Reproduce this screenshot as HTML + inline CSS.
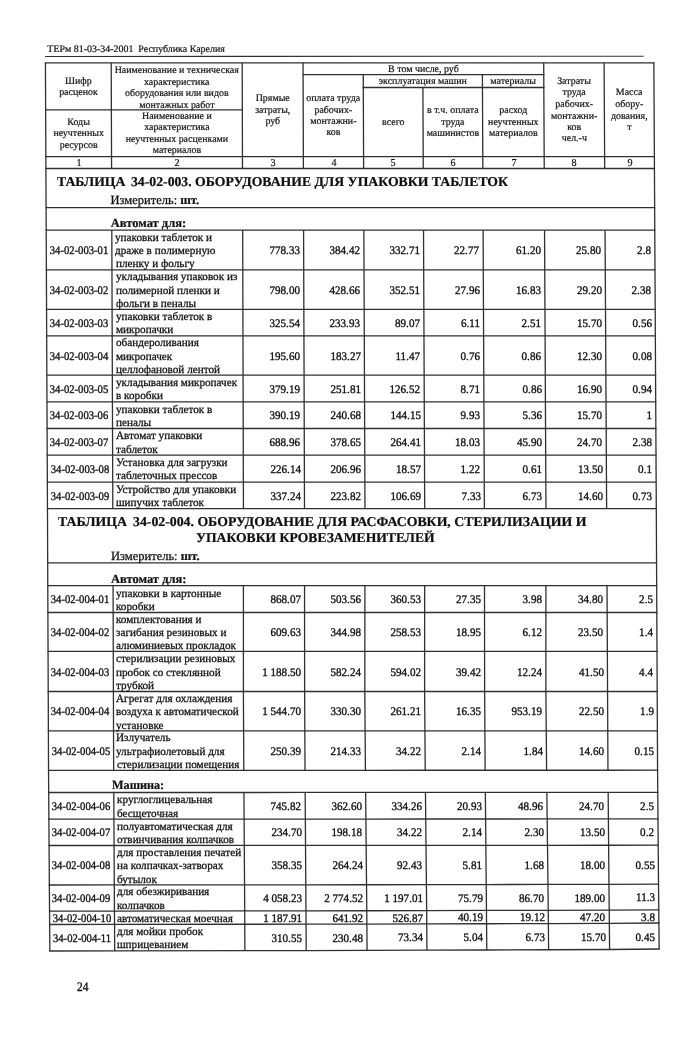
<!DOCTYPE html>
<html lang="ru"><head><meta charset="utf-8"><title>ТЕРм 81-03-34-2001 Республика Карелия</title>
<style>
html,body{margin:0;padding:0;background:#fff}
#page{position:relative;width:700px;height:1049px;overflow:hidden;background:#fff;font-family:"Liberation Serif","Times New Roman",serif;color:#101010;text-rendering:geometricPrecision}
#sheet{position:absolute;left:0;top:0;width:700px;height:1049px;will-change:transform;filter:blur(0.28px)}
#rules{position:absolute;left:0;top:0}
.t{position:absolute;display:block;white-space:pre;line-height:14.0px;-webkit-text-stroke:0.34px #101010}
.h{-webkit-text-stroke-width:0.2px}
.d{-webkit-text-stroke-width:0.26px}
.b,.t b{font-weight:bold;-webkit-text-stroke:0.22px #101010}
</style></head><body>
<div id="page"><div id="sheet">
<svg id="rules" width="700" height="1049" viewBox="0 0 700 1049" fill="none" stroke="#303030" stroke-linecap="butt" stroke-linejoin="round">
<path stroke-width="1.1" d="M45.10 56.43L643.60 56.25"/>
<path stroke-width="1.3" d="M45.43 62.86L45.91 168.50M111.20 62.86L111.58 168.50M242.20 62.86L242.49 168.50M303.05 62.86L303.39 168.50M543.70 62.86L544.23 168.50M604.10 62.86L604.70 168.50M653.86 62.86L654.44 168.50M363.25 74.70L363.62 168.50M482.40 74.70L482.83 168.50M422.91 87.50L423.25 168.50M45.91 168.50L46.09 207.70M654.44 168.50L654.65 207.70"/>
<path stroke-width="1.3" d="M46.09 207.70L46.19 230.10M654.65 207.70L654.77 230.10M46.19 230.10L46.38 269.80M111.80 230.10L111.95 269.80M242.67 230.10L242.78 269.80M303.59 230.10L303.72 269.80M363.86 230.10L364.02 269.80M423.52 230.10L423.69 269.80M483.11 230.10L483.29 269.80M544.55 230.10L544.75 269.80M605.05 230.10L605.28 269.80M654.77 230.10L654.99 269.80"/>
<path stroke-width="1.3" d="M46.38 269.80L46.56 309.40M111.95 269.80L112.09 309.40M242.78 269.80L242.89 309.40M303.72 269.80L303.85 309.40M364.02 269.80L364.18 309.40M423.69 269.80L423.86 309.40M483.29 269.80L483.47 309.40M544.75 269.80L544.95 309.40M605.28 269.80L605.50 309.40M654.99 269.80L655.20 309.40M46.56 309.40L46.68 335.90M112.09 309.40L112.19 335.90"/>
<path stroke-width="1.3" d="M242.89 309.40L242.96 335.90M303.85 309.40L303.94 335.90M364.18 309.40L364.29 335.90M423.86 309.40L423.97 335.90M483.47 309.40L483.60 335.90M544.95 309.40L545.08 335.90M605.50 309.40L605.65 335.90M655.20 309.40L655.35 335.90M46.68 335.90L46.86 375.20M112.19 335.90L112.33 375.20M242.96 335.90L243.07 375.20M303.94 335.90L304.07 375.20"/>
<path stroke-width="1.3" d="M364.29 335.90L364.44 375.20M423.97 335.90L424.14 375.20M483.60 335.90L483.78 375.20M545.08 335.90L545.28 375.20M605.65 335.90L605.87 375.20M655.35 335.90L655.56 375.20M46.86 375.20L46.98 401.80M112.33 375.20L112.42 401.80M243.07 375.20L243.14 401.80M304.07 375.20L304.15 401.80M364.44 375.20L364.55 401.80M424.14 375.20L424.25 401.80"/>
<path stroke-width="1.3" d="M483.78 375.20L483.90 401.80M545.28 375.20L545.41 401.80M605.87 375.20L606.02 401.80M655.56 375.20L655.71 401.80M46.98 401.80L47.10 428.50M112.42 401.80L112.52 428.50M243.14 401.80L243.22 428.50M304.15 401.80L304.24 428.50M364.55 401.80L364.65 428.50M424.25 401.80L424.37 428.50M483.90 401.80L484.02 428.50M545.41 401.80L545.55 428.50"/>
<path stroke-width="1.3" d="M606.02 401.80L606.18 428.50M655.71 401.80L655.85 428.50M47.10 428.50L47.22 455.20M112.52 428.50L112.62 455.20M243.22 428.50L243.29 455.20M304.24 428.50L304.33 455.20M364.65 428.50L364.76 455.20M424.37 428.50L424.48 455.20M484.02 428.50L484.14 455.20M545.55 428.50L545.68 455.20M606.18 428.50L606.33 455.20M655.85 428.50L656.00 455.20"/>
<path stroke-width="1.3" d="M47.22 455.20L47.35 482.20M112.62 455.20L112.72 482.20M243.29 455.20L243.37 482.20M304.33 455.20L304.41 482.20M364.76 455.20L364.87 482.20M424.48 455.20L424.60 482.20M484.14 455.20L484.26 482.20M545.68 455.20L545.82 482.20M606.33 455.20L606.48 482.20M656.00 455.20L656.15 482.20M47.35 482.20L47.47 508.70M112.72 482.20L112.81 508.70"/>
<path stroke-width="1.3" d="M243.37 482.20L243.44 508.70M304.41 482.20L304.50 508.70M364.87 482.20L364.97 508.70M424.60 482.20L424.71 508.70M484.26 482.20L484.38 508.70M545.82 482.20L545.96 508.70M606.48 482.20L606.63 508.70M656.15 482.20L656.29 508.70M47.47 508.70L47.69 562.90M656.29 508.70L656.56 562.90M47.69 562.90L47.78 585.70M656.56 562.90L656.67 585.70"/>
<path stroke-width="1.3" d="M47.78 585.70L47.89 612.50M113.06 585.70L113.15 612.50M243.42 585.70L243.42 612.50M304.56 585.70L304.57 612.50M364.91 585.70L364.88 612.50M424.67 585.70L424.65 612.50M484.49 585.70L484.52 612.50M545.92 585.70L545.91 612.50M607.02 585.70L607.16 612.50M656.67 585.70L656.80 612.50M47.89 612.50L48.05 651.30M113.15 612.50L113.27 651.30"/>
<path stroke-width="1.3" d="M243.42 612.50L243.41 651.30M304.57 612.50L304.60 651.30M364.88 612.50L364.85 651.30M424.65 612.50L424.63 651.30M484.52 612.50L484.58 651.30M545.91 612.50L545.89 651.30M607.16 612.50L607.36 651.30M656.80 612.50L656.99 651.30M48.05 651.30L48.22 691.50M113.27 651.30L113.40 691.50M243.41 651.30L243.40 691.50M304.60 651.30L304.64 691.50"/>
<path stroke-width="1.3" d="M364.85 651.30L364.83 691.50M424.63 651.30L424.62 691.50M484.58 651.30L484.64 691.50M545.89 651.30L545.89 691.50M607.36 651.30L607.56 691.50M656.99 651.30L657.18 691.50M48.22 691.50L48.38 730.90M113.40 691.50L113.53 730.90M243.40 691.50L243.60 730.90M304.64 691.50L304.83 730.90M364.83 691.50L365.12 730.90M424.62 691.50L424.92 730.90"/>
<path stroke-width="1.3" d="M484.64 691.50L484.89 730.90M545.89 691.50L546.24 730.90M607.56 691.50L607.76 730.90M657.18 691.50L657.38 730.90M48.38 730.90L48.54 770.30M113.53 730.90L113.66 770.30M243.60 730.90L243.79 770.29M304.83 730.90L305.02 770.28M365.12 730.90L365.41 770.28M424.92 730.90L425.22 770.27M484.89 730.90L485.15 770.26M546.24 730.90L546.59 770.25"/>
<path stroke-width="1.3" d="M607.76 730.90L607.96 770.24M657.38 730.90L657.57 770.21M48.54 770.30L48.70 792.50M657.57 770.21L657.75 792.35M48.70 792.50L48.88 819.10M113.78 792.49L113.93 819.09M243.94 792.48L244.11 819.06M305.17 792.47L305.35 819.05M365.63 792.46L365.89 819.04M425.45 792.44L425.73 819.01M485.35 792.42L485.60 818.99M546.85 792.41L547.17 818.96"/>
<path stroke-width="1.3" d="M608.16 792.39L608.39 818.93M657.75 792.35L657.97 818.87M48.88 819.10L49.07 845.50M113.93 819.09L114.07 845.48M244.11 819.06L244.29 845.45M305.35 819.05L305.53 845.43M365.89 819.04L366.15 845.42M425.73 819.01L426.00 845.38M485.60 818.99L485.85 845.35M547.17 818.96L547.49 845.31M608.39 818.93L608.61 845.27M657.97 818.87L658.19 845.19"/>
<path stroke-width="1.3" d="M49.07 845.50L49.34 885.00M114.07 845.48L114.29 884.95M244.29 845.45L244.55 884.85M305.53 845.43L305.80 884.81M366.15 845.42L366.54 884.75M426.00 845.38L426.41 884.65M485.85 845.35L486.22 884.55M547.49 845.31L547.96 884.45M608.61 845.27L608.96 884.33M658.19 845.19L658.52 884.10M49.34 885.00L49.55 911.10M114.29 884.95L114.45 911.03"/>
<path stroke-width="1.3" d="M244.55 884.85L244.71 910.89M305.80 884.81L305.98 910.82M366.54 884.75L366.78 910.74M426.41 884.65L426.66 910.60M486.22 884.55L486.46 910.45M547.96 884.45L548.25 910.30M608.96 884.33L609.21 910.13M658.52 884.10L658.77 909.80M49.55 911.10L49.65 924.50M114.45 911.03L114.54 924.42M244.71 910.89L244.77 924.26M305.98 910.82L306.05 924.18"/>
<path stroke-width="1.3" d="M366.78 910.74L366.87 924.08M426.66 910.60L426.75 923.91M486.46 910.45L486.56 923.75M548.25 910.30L548.37 923.57M609.21 910.13L609.34 923.37M658.77 909.80L658.89 922.99M49.65 924.50L49.86 951.00M114.54 924.42L114.70 950.89M244.77 924.26L244.90 950.68M306.05 924.18L306.20 950.58M366.87 924.08L367.05 950.45M426.75 923.91L426.95 950.22"/>
<path stroke-width="1.3" d="M486.56 923.75L486.77 950.00M548.37 923.57L548.60 949.77M609.34 923.37L609.60 949.51M658.89 922.99L659.14 949.00M44.78 62.86L654.51 62.86M302.44 74.70L544.41 74.70M362.65 87.50L544.47 87.50M44.99 109.80L242.98 109.80M45.21 156.65L655.02 156.65M45.26 168.50L655.09 168.50M45.44 207.70L655.30 207.70M45.54 230.10L655.42 230.10"/>
<path stroke-width="1.3" d="M45.73 269.80L655.64 269.80M45.91 309.40L655.85 309.40M46.03 335.90L656.00 335.90M46.21 375.20L656.21 375.20M46.33 401.80L656.36 401.80M46.45 428.50L656.50 428.50M46.57 455.20L656.65 455.20M46.70 482.20L656.80 482.20M46.82 508.70L656.94 508.70M47.04 562.90L657.21 562.90M47.13 585.70L657.32 585.70M47.24 612.50L657.45 612.50"/>
<path stroke-width="1.3" d="M47.40 651.30L657.64 651.30M47.57 691.50L657.83 691.50M47.73 730.90L658.03 730.90M47.89 770.30L113.66 770.30L243.79 770.29L305.02 770.28L365.41 770.28L425.22 770.27L485.15 770.26L546.59 770.25L607.96 770.24L658.22 770.21M48.05 792.50L113.78 792.49L243.94 792.48L305.17 792.47L365.63 792.46L425.45 792.44L485.35 792.42L546.85 792.41L608.16 792.39L658.40 792.35M48.23 819.10L113.93 819.09L244.11 819.06L305.35 819.05L365.89 819.04L425.73 819.01L485.60 818.99L547.17 818.96L608.39 818.93L658.62 818.87M48.42 845.50L114.07 845.48L244.29 845.45L305.53 845.43L366.15 845.42L426.00 845.38L485.85 845.35L547.49 845.31L608.61 845.27L658.84 845.19M48.69 885.00L114.29 884.95L244.55 884.85L305.80 884.81L366.54 884.75L426.41 884.65L486.22 884.55L547.96 884.45L608.96 884.33L659.17 884.10M48.90 911.10L114.45 911.03L244.71 910.89L305.98 910.82L366.78 910.74L426.66 910.60L486.46 910.45L548.25 910.30L609.21 910.13L659.42 909.80M49.00 924.50L114.54 924.42L244.77 924.26L306.05 924.18L366.87 924.08L426.75 923.91L486.56 923.75L548.37 923.57L609.34 923.37L659.54 922.99M49.21 951.00L114.70 950.89L244.90 950.68L306.20 950.58L367.05 950.45L426.95 950.22L486.77 950.00L548.60 949.77L609.60 949.51L659.79 949.00"/>
</svg>
<span class="t h" style="top:43px;font-size:9.95px;left:47.35px;">ТЕРм 81-03-34-2001  Республика Карелия</span>
<span class="t h" style="top:75px;font-size:9.95px;left:-71.60px;width:300px;text-align:center;">Шифр</span>
<span class="t h" style="top:86px;font-size:9.95px;left:-71.55px;width:300px;text-align:center;">расценок</span>
<span class="t h" style="top:116px;font-size:9.95px;left:-71.43px;width:300px;text-align:center;">Коды</span>
<span class="t h" style="top:127px;font-size:9.95px;left:-71.39px;width:300px;text-align:center;">неучтенных</span>
<span class="t h" style="top:139px;font-size:9.95px;left:-71.34px;width:300px;text-align:center;">ресурсов</span>
<span class="t h" style="top:64px;font-size:9.95px;left:26.73px;width:300px;text-align:center;">Наименование и техническая</span>
<span class="t h" style="top:76px;font-size:9.95px;left:26.77px;width:300px;text-align:center;">характеристика</span>
<span class="t h" style="top:87px;font-size:9.95px;left:26.81px;width:300px;text-align:center;">оборудования или видов</span>
<span class="t h" style="top:99px;font-size:9.95px;left:26.84px;width:300px;text-align:center;">монтажных работ</span>
<span class="t h" style="top:110px;font-size:9.95px;left:26.88px;width:300px;text-align:center;">Наименование и</span>
<span class="t h" style="top:121px;font-size:9.95px;left:26.91px;width:300px;text-align:center;">характеристика</span>
<span class="t h" style="top:133px;font-size:9.95px;left:26.95px;width:300px;text-align:center;">неучтенных расценками</span>
<span class="t h" style="top:144px;font-size:9.95px;left:26.99px;width:300px;text-align:center;">материалов</span>
<span class="t h" style="top:92px;font-size:9.95px;left:122.74px;width:300px;text-align:center;">Прямые</span>
<span class="t h" style="top:104px;font-size:9.95px;left:122.78px;width:300px;text-align:center;">затраты,</span>
<span class="t h" style="top:115px;font-size:9.95px;left:122.81px;width:300px;text-align:center;">руб</span>
<span class="t h" style="top:92px;font-size:9.95px;left:183.26px;width:300px;text-align:center;">оплата труда</span>
<span class="t h" style="top:104px;font-size:9.95px;left:183.31px;width:300px;text-align:center;">рабочих-</span>
<span class="t h" style="top:115px;font-size:9.95px;left:183.35px;width:300px;text-align:center;">монтажни-</span>
<span class="t h" style="top:126px;font-size:9.95px;left:183.39px;width:300px;text-align:center;">ков</span>
<span class="t h" style="top:63px;font-size:9.95px;left:273.42px;width:300px;text-align:center;">В том числе, руб</span>
<span class="t h" style="top:75px;font-size:9.95px;left:272.87px;width:300px;text-align:center;">эксплуатация машин</span>
<span class="t h" style="top:75px;font-size:9.95px;left:363.13px;width:300px;text-align:center;">материалы</span>
<span class="t h" style="top:116px;font-size:9.95px;left:243.26px;width:300px;text-align:center;">всего</span>
<span class="t h" style="top:104px;font-size:9.95px;left:302.80px;width:300px;text-align:center;">в т.ч. оплата</span>
<span class="t h" style="top:116px;font-size:9.95px;left:302.85px;width:300px;text-align:center;">труда</span>
<span class="t h" style="top:127px;font-size:9.95px;left:302.90px;width:300px;text-align:center;">машинистов</span>
<span class="t h" style="top:104px;font-size:9.95px;left:363.27px;width:300px;text-align:center;">расход</span>
<span class="t h" style="top:116px;font-size:9.95px;left:363.32px;width:300px;text-align:center;">неучтенных</span>
<span class="t h" style="top:127px;font-size:9.95px;left:363.38px;width:300px;text-align:center;">материалов</span>
<span class="t h" style="top:75px;font-size:9.95px;left:424.01px;width:300px;text-align:center;">Затраты</span>
<span class="t h" style="top:86px;font-size:9.95px;left:424.08px;width:300px;text-align:center;">труда</span>
<span class="t h" style="top:98px;font-size:9.95px;left:424.14px;width:300px;text-align:center;">рабочих-</span>
<span class="t h" style="top:110px;font-size:9.95px;left:424.20px;width:300px;text-align:center;">монтажни-</span>
<span class="t h" style="top:121px;font-size:9.95px;left:424.26px;width:300px;text-align:center;">ков</span>
<span class="t h" style="top:132px;font-size:9.95px;left:424.32px;width:300px;text-align:center;">чел.-ч</span>
<span class="t h" style="top:86px;font-size:9.95px;left:479.16px;width:300px;text-align:center;">Масса</span>
<span class="t h" style="top:98px;font-size:9.95px;left:479.23px;width:300px;text-align:center;">обору-</span>
<span class="t h" style="top:110px;font-size:9.95px;left:479.29px;width:300px;text-align:center;">дования,</span>
<span class="t h" style="top:121px;font-size:9.95px;left:479.35px;width:300px;text-align:center;">т</span>
<span class="t h" style="top:157px;font-size:10.55px;transform:scaleX(0.96);transform-origin:50% 0;left:-71.26px;width:300px;text-align:center;">1</span>
<span class="t h" style="top:157px;font-size:10.55px;transform:scaleX(0.96);transform-origin:50% 0;left:27.03px;width:300px;text-align:center;">2</span>
<span class="t h" style="top:157px;font-size:10.55px;transform:scaleX(0.96);transform-origin:50% 0;left:122.94px;width:300px;text-align:center;">3</span>
<span class="t h" style="top:157px;font-size:10.55px;transform:scaleX(0.96);transform-origin:50% 0;left:183.50px;width:300px;text-align:center;">4</span>
<span class="t h" style="top:157px;font-size:10.55px;transform:scaleX(0.96);transform-origin:50% 0;left:243.43px;width:300px;text-align:center;">5</span>
<span class="t h" style="top:157px;font-size:10.55px;transform:scaleX(0.96);transform-origin:50% 0;left:303.03px;width:300px;text-align:center;">6</span>
<span class="t h" style="top:157px;font-size:10.55px;transform:scaleX(0.96);transform-origin:50% 0;left:363.52px;width:300px;text-align:center;">7</span>
<span class="t h" style="top:157px;font-size:10.55px;transform:scaleX(0.96);transform-origin:50% 0;left:424.45px;width:300px;text-align:center;">8</span>
<span class="t h" style="top:157px;font-size:10.55px;transform:scaleX(0.96);transform-origin:50% 0;left:479.55px;width:300px;text-align:center;">9</span>
<span class="t b" style="top:175px;font-size:13.5px;transform:scaleX(1.0133);transform-origin:0 0;left:56.55px;">ТАБЛИЦА</span>
<span class="t b" style="top:175px;font-size:13.5px;transform:scaleX(1.0177);transform-origin:0 0;left:131.23px;">34-02-003. ОБОРУДОВАНИЕ ДЛЯ УПАКОВКИ ТАБЛЕТОК</span>
<span class="t d" style="top:193px;font-size:12.5px;left:110.51px;">Измеритель: <b>шт.</b></span>
<span class="t b" style="top:216px;font-size:12.5px;left:110.80px;">Автомат для:</span>
<span class="t" style="top:244px;font-size:11.6px;transform:scaleX(0.9172);transform-origin:50% 0;left:-71.40px;width:300px;text-align:center;">34-02-003-01</span>
<span class="t d" style="top:231px;font-size:11.3px;transform:scaleX(0.9912);transform-origin:0 0;left:115.41px;">упаковки таблеток и</span>
<span class="t d" style="top:244px;font-size:11.3px;transform:scaleX(0.9912);transform-origin:0 0;left:115.46px;">драже в полимерную</span>
<span class="t d" style="top:257px;font-size:11.3px;transform:scaleX(0.9912);transform-origin:0 0;left:115.51px;">пленку и фольгу</span>
<span class="t" style="top:244px;font-size:11.6px;transform:scaleX(0.9569);transform-origin:100% 0;left:-0.13px;width:300px;text-align:right;">778.33</span>
<span class="t" style="top:244px;font-size:11.6px;transform:scaleX(0.9569);transform-origin:100% 0;left:60.15px;width:300px;text-align:right;">384.42</span>
<span class="t" style="top:244px;font-size:11.6px;transform:scaleX(0.9569);transform-origin:100% 0;left:119.82px;width:300px;text-align:right;">332.71</span>
<span class="t" style="top:244px;font-size:11.6px;transform:scaleX(0.9569);transform-origin:100% 0;left:179.42px;width:300px;text-align:right;">22.77</span>
<span class="t" style="top:244px;font-size:11.6px;transform:scaleX(0.9569);transform-origin:100% 0;left:240.86px;width:300px;text-align:right;">61.20</span>
<span class="t" style="top:244px;font-size:11.6px;transform:scaleX(0.9569);transform-origin:100% 0;left:301.38px;width:300px;text-align:right;">25.80</span>
<span class="t" style="top:244px;font-size:11.6px;transform:scaleX(0.9569);transform-origin:100% 0;left:351.11px;width:300px;text-align:right;">2.8</span>
<span class="t" style="top:284px;font-size:11.6px;transform:scaleX(0.9172);transform-origin:50% 0;left:-71.24px;width:300px;text-align:center;">34-02-003-02</span>
<span class="t d" style="top:270px;font-size:11.3px;transform:scaleX(0.9912);transform-origin:0 0;left:115.50px;">укладывания упаковок из</span>
<span class="t d" style="top:284px;font-size:11.3px;transform:scaleX(0.9912);transform-origin:0 0;left:115.55px;">полимерной пленки и</span>
<span class="t d" style="top:297px;font-size:11.3px;transform:scaleX(0.9912);transform-origin:0 0;left:115.59px;">фольги в пеналы</span>
<span class="t" style="top:284px;font-size:11.6px;transform:scaleX(0.9569);transform-origin:100% 0;left:-0.01px;width:300px;text-align:right;">798.00</span>
<span class="t" style="top:284px;font-size:11.6px;transform:scaleX(0.9569);transform-origin:100% 0;left:60.31px;width:300px;text-align:right;">428.66</span>
<span class="t" style="top:284px;font-size:11.6px;transform:scaleX(0.9569);transform-origin:100% 0;left:119.98px;width:300px;text-align:right;">352.51</span>
<span class="t" style="top:284px;font-size:11.6px;transform:scaleX(0.9569);transform-origin:100% 0;left:179.60px;width:300px;text-align:right;">27.96</span>
<span class="t" style="top:284px;font-size:11.6px;transform:scaleX(0.9569);transform-origin:100% 0;left:241.06px;width:300px;text-align:right;">16.83</span>
<span class="t" style="top:284px;font-size:11.6px;transform:scaleX(0.9569);transform-origin:100% 0;left:301.60px;width:300px;text-align:right;">29.20</span>
<span class="t" style="top:284px;font-size:11.6px;transform:scaleX(0.9569);transform-origin:100% 0;left:351.32px;width:300px;text-align:right;">2.38</span>
<span class="t" style="top:317px;font-size:11.6px;transform:scaleX(0.9172);transform-origin:50% 0;left:-71.10px;width:300px;text-align:center;">34-02-003-03</span>
<span class="t d" style="top:310px;font-size:11.3px;transform:scaleX(0.9912);transform-origin:0 0;left:115.59px;">упаковки таблеток в</span>
<span class="t d" style="top:323px;font-size:11.3px;transform:scaleX(0.9912);transform-origin:0 0;left:115.64px;">микропачки</span>
<span class="t" style="top:317px;font-size:11.6px;transform:scaleX(0.9569);transform-origin:100% 0;left:0.10px;width:300px;text-align:right;">325.54</span>
<span class="t" style="top:317px;font-size:11.6px;transform:scaleX(0.9569);transform-origin:100% 0;left:60.44px;width:300px;text-align:right;">233.93</span>
<span class="t" style="top:317px;font-size:11.6px;transform:scaleX(0.9569);transform-origin:100% 0;left:120.13px;width:300px;text-align:right;">89.07</span>
<span class="t" style="top:317px;font-size:11.6px;transform:scaleX(0.9569);transform-origin:100% 0;left:179.75px;width:300px;text-align:right;">6.11</span>
<span class="t" style="top:317px;font-size:11.6px;transform:scaleX(0.9569);transform-origin:100% 0;left:241.23px;width:300px;text-align:right;">2.51</span>
<span class="t" style="top:317px;font-size:11.6px;transform:scaleX(0.9569);transform-origin:100% 0;left:301.79px;width:300px;text-align:right;">15.70</span>
<span class="t" style="top:317px;font-size:11.6px;transform:scaleX(0.9569);transform-origin:100% 0;left:351.50px;width:300px;text-align:right;">0.56</span>
<span class="t" style="top:350px;font-size:11.6px;transform:scaleX(0.9172);transform-origin:50% 0;left:-70.97px;width:300px;text-align:center;">34-02-003-04</span>
<span class="t d" style="top:336px;font-size:11.3px;transform:scaleX(0.9912);transform-origin:0 0;left:115.64px;">обандероливания</span>
<span class="t d" style="top:350px;font-size:11.3px;transform:scaleX(0.9912);transform-origin:0 0;left:115.69px;">микропачек</span>
<span class="t d" style="top:363px;font-size:11.3px;transform:scaleX(0.9912);transform-origin:0 0;left:115.74px;">целлофановой лентой</span>
<span class="t" style="top:350px;font-size:11.6px;transform:scaleX(0.9569);transform-origin:100% 0;left:0.21px;width:300px;text-align:right;">195.60</span>
<span class="t" style="top:350px;font-size:11.6px;transform:scaleX(0.9569);transform-origin:100% 0;left:60.57px;width:300px;text-align:right;">183.27</span>
<span class="t" style="top:350px;font-size:11.6px;transform:scaleX(0.9569);transform-origin:100% 0;left:120.27px;width:300px;text-align:right;">11.47</span>
<span class="t" style="top:350px;font-size:11.6px;transform:scaleX(0.9569);transform-origin:100% 0;left:179.90px;width:300px;text-align:right;">0.76</span>
<span class="t" style="top:350px;font-size:11.6px;transform:scaleX(0.9569);transform-origin:100% 0;left:241.39px;width:300px;text-align:right;">0.86</span>
<span class="t" style="top:350px;font-size:11.6px;transform:scaleX(0.9569);transform-origin:100% 0;left:301.97px;width:300px;text-align:right;">12.30</span>
<span class="t" style="top:350px;font-size:11.6px;transform:scaleX(0.9569);transform-origin:100% 0;left:351.68px;width:300px;text-align:right;">0.08</span>
<span class="t" style="top:383px;font-size:11.6px;transform:scaleX(0.9172);transform-origin:50% 0;left:-70.83px;width:300px;text-align:center;">34-02-003-05</span>
<span class="t d" style="top:376px;font-size:11.3px;transform:scaleX(0.9912);transform-origin:0 0;left:115.74px;">укладывания микропачек</span>
<span class="t d" style="top:389px;font-size:11.3px;transform:scaleX(0.9912);transform-origin:0 0;left:115.78px;">в коробки</span>
<span class="t" style="top:383px;font-size:11.6px;transform:scaleX(0.9569);transform-origin:100% 0;left:0.31px;width:300px;text-align:right;">379.19</span>
<span class="t" style="top:383px;font-size:11.6px;transform:scaleX(0.9569);transform-origin:100% 0;left:60.70px;width:300px;text-align:right;">251.81</span>
<span class="t" style="top:383px;font-size:11.6px;transform:scaleX(0.9569);transform-origin:100% 0;left:120.41px;width:300px;text-align:right;">126.52</span>
<span class="t" style="top:383px;font-size:11.6px;transform:scaleX(0.9569);transform-origin:100% 0;left:180.05px;width:300px;text-align:right;">8.71</span>
<span class="t" style="top:383px;font-size:11.6px;transform:scaleX(0.9569);transform-origin:100% 0;left:241.56px;width:300px;text-align:right;">0.86</span>
<span class="t" style="top:383px;font-size:11.6px;transform:scaleX(0.9569);transform-origin:100% 0;left:302.16px;width:300px;text-align:right;">16.90</span>
<span class="t" style="top:383px;font-size:11.6px;transform:scaleX(0.9569);transform-origin:100% 0;left:351.86px;width:300px;text-align:right;">0.94</span>
<span class="t" style="top:409px;font-size:11.6px;transform:scaleX(0.9172);transform-origin:50% 0;left:-70.72px;width:300px;text-align:center;">34-02-003-06</span>
<span class="t d" style="top:403px;font-size:11.3px;transform:scaleX(0.9912);transform-origin:0 0;left:115.80px;">упаковки таблеток в</span>
<span class="t d" style="top:416px;font-size:11.3px;transform:scaleX(0.9912);transform-origin:0 0;left:115.84px;">пеналы</span>
<span class="t" style="top:409px;font-size:11.6px;transform:scaleX(0.9569);transform-origin:100% 0;left:0.40px;width:300px;text-align:right;">390.19</span>
<span class="t" style="top:409px;font-size:11.6px;transform:scaleX(0.9569);transform-origin:100% 0;left:60.80px;width:300px;text-align:right;">240.68</span>
<span class="t" style="top:409px;font-size:11.6px;transform:scaleX(0.9569);transform-origin:100% 0;left:120.52px;width:300px;text-align:right;">144.15</span>
<span class="t" style="top:409px;font-size:11.6px;transform:scaleX(0.9569);transform-origin:100% 0;left:180.17px;width:300px;text-align:right;">9.93</span>
<span class="t" style="top:409px;font-size:11.6px;transform:scaleX(0.9569);transform-origin:100% 0;left:241.69px;width:300px;text-align:right;">5.36</span>
<span class="t" style="top:409px;font-size:11.6px;transform:scaleX(0.9569);transform-origin:100% 0;left:302.31px;width:300px;text-align:right;">15.70</span>
<span class="t" style="top:409px;font-size:11.6px;transform:scaleX(0.9569);transform-origin:100% 0;left:352.01px;width:300px;text-align:right;">1</span>
<span class="t" style="top:436px;font-size:11.6px;transform:scaleX(0.9172);transform-origin:50% 0;left:-70.61px;width:300px;text-align:center;">34-02-003-07</span>
<span class="t d" style="top:429px;font-size:11.3px;transform:scaleX(0.9912);transform-origin:0 0;left:115.85px;">Автомат упаковки</span>
<span class="t d" style="top:443px;font-size:11.3px;transform:scaleX(0.9912);transform-origin:0 0;left:115.90px;">таблеток</span>
<span class="t" style="top:436px;font-size:11.6px;transform:scaleX(0.9569);transform-origin:100% 0;left:0.48px;width:300px;text-align:right;">688.96</span>
<span class="t" style="top:436px;font-size:11.6px;transform:scaleX(0.9569);transform-origin:100% 0;left:60.91px;width:300px;text-align:right;">378.65</span>
<span class="t" style="top:436px;font-size:11.6px;transform:scaleX(0.9569);transform-origin:100% 0;left:120.63px;width:300px;text-align:right;">264.41</span>
<span class="t" style="top:436px;font-size:11.6px;transform:scaleX(0.9569);transform-origin:100% 0;left:180.29px;width:300px;text-align:right;">18.03</span>
<span class="t" style="top:436px;font-size:11.6px;transform:scaleX(0.9569);transform-origin:100% 0;left:241.83px;width:300px;text-align:right;">45.90</span>
<span class="t" style="top:436px;font-size:11.6px;transform:scaleX(0.9569);transform-origin:100% 0;left:302.46px;width:300px;text-align:right;">24.70</span>
<span class="t" style="top:436px;font-size:11.6px;transform:scaleX(0.9569);transform-origin:100% 0;left:352.15px;width:300px;text-align:right;">2.38</span>
<span class="t" style="top:463px;font-size:11.6px;transform:scaleX(0.9172);transform-origin:50% 0;left:-70.50px;width:300px;text-align:center;">34-02-003-08</span>
<span class="t d" style="top:456px;font-size:11.3px;transform:scaleX(0.9912);transform-origin:0 0;left:115.91px;">Установка для загрузки</span>
<span class="t d" style="top:469px;font-size:11.3px;transform:scaleX(0.9912);transform-origin:0 0;left:115.96px;">таблеточных прессов</span>
<span class="t" style="top:463px;font-size:11.6px;transform:scaleX(0.9569);transform-origin:100% 0;left:0.57px;width:300px;text-align:right;">226.14</span>
<span class="t" style="top:463px;font-size:11.6px;transform:scaleX(0.9569);transform-origin:100% 0;left:61.01px;width:300px;text-align:right;">206.96</span>
<span class="t" style="top:463px;font-size:11.6px;transform:scaleX(0.9569);transform-origin:100% 0;left:120.75px;width:300px;text-align:right;">18.57</span>
<span class="t" style="top:463px;font-size:11.6px;transform:scaleX(0.9569);transform-origin:100% 0;left:180.41px;width:300px;text-align:right;">1.22</span>
<span class="t" style="top:463px;font-size:11.6px;transform:scaleX(0.9569);transform-origin:100% 0;left:241.96px;width:300px;text-align:right;">0.61</span>
<span class="t" style="top:463px;font-size:11.6px;transform:scaleX(0.9569);transform-origin:100% 0;left:302.61px;width:300px;text-align:right;">13.50</span>
<span class="t" style="top:463px;font-size:11.6px;transform:scaleX(0.9569);transform-origin:100% 0;left:352.30px;width:300px;text-align:right;">0.1</span>
<span class="t" style="top:490px;font-size:11.6px;transform:scaleX(0.9172);transform-origin:50% 0;left:-70.39px;width:300px;text-align:center;">34-02-003-09</span>
<span class="t d" style="top:483px;font-size:11.3px;transform:scaleX(0.9912);transform-origin:0 0;left:115.97px;">Устройство для упаковки</span>
<span class="t d" style="top:496px;font-size:11.3px;transform:scaleX(0.9912);transform-origin:0 0;left:116.02px;">шипучих таблеток</span>
<span class="t" style="top:490px;font-size:11.6px;transform:scaleX(0.9569);transform-origin:100% 0;left:0.66px;width:300px;text-align:right;">337.24</span>
<span class="t" style="top:490px;font-size:11.6px;transform:scaleX(0.9569);transform-origin:100% 0;left:61.12px;width:300px;text-align:right;">223.82</span>
<span class="t" style="top:490px;font-size:11.6px;transform:scaleX(0.9569);transform-origin:100% 0;left:120.86px;width:300px;text-align:right;">106.69</span>
<span class="t" style="top:490px;font-size:11.6px;transform:scaleX(0.9569);transform-origin:100% 0;left:180.53px;width:300px;text-align:right;">7.33</span>
<span class="t" style="top:490px;font-size:11.6px;transform:scaleX(0.9569);transform-origin:100% 0;left:242.10px;width:300px;text-align:right;">6.73</span>
<span class="t" style="top:490px;font-size:11.6px;transform:scaleX(0.9569);transform-origin:100% 0;left:302.76px;width:300px;text-align:right;">14.60</span>
<span class="t" style="top:490px;font-size:11.6px;transform:scaleX(0.9569);transform-origin:100% 0;left:352.45px;width:300px;text-align:right;">0.73</span>
<span class="t b" style="top:515px;font-size:13.5px;transform:scaleX(1.0222);transform-origin:0 0;left:58.04px;">ТАБЛИЦА</span>
<span class="t b" style="top:515px;font-size:13.5px;transform:scaleX(1.0222);transform-origin:0 0;left:132.50px;">34-02-004. ОБОРУДОВАНИЕ ДЛЯ РАСФАСОВКИ, СТЕРИЛИЗАЦИИ И</span>
<span class="t b" style="top:531px;font-size:13.5px;transform:scaleX(1.0096);transform-origin:0 0;left:196.11px;">УПАКОВКИ КРОВЕЗАМЕНИТЕЛЕЙ</span>
<span class="t d" style="top:549px;font-size:12.5px;left:110.99px;">Измеритель: <b>шт.</b></span>
<span class="t b" style="top:572px;font-size:12.5px;left:111.07px;">Автомат для:</span>
<span class="t" style="top:593px;font-size:11.6px;transform:scaleX(0.9172);transform-origin:50% 0;left:-70.01px;width:300px;text-align:center;">34-02-004-01</span>
<span class="t d" style="top:587px;font-size:11.3px;transform:scaleX(0.9912);transform-origin:0 0;left:116.16px;">упаковки в картонные</span>
<span class="t d" style="top:600px;font-size:11.3px;transform:scaleX(0.9912);transform-origin:0 0;left:116.20px;">коробки</span>
<span class="t" style="top:593px;font-size:11.6px;transform:scaleX(0.9569);transform-origin:100% 0;left:0.75px;width:300px;text-align:right;">868.07</span>
<span class="t" style="top:593px;font-size:11.6px;transform:scaleX(0.9569);transform-origin:100% 0;left:61.08px;width:300px;text-align:right;">503.56</span>
<span class="t" style="top:593px;font-size:11.6px;transform:scaleX(0.9569);transform-origin:100% 0;left:120.85px;width:300px;text-align:right;">360.53</span>
<span class="t" style="top:593px;font-size:11.6px;transform:scaleX(0.9569);transform-origin:100% 0;left:180.69px;width:300px;text-align:right;">27.35</span>
<span class="t" style="top:593px;font-size:11.6px;transform:scaleX(0.9569);transform-origin:100% 0;left:242.11px;width:300px;text-align:right;">3.98</span>
<span class="t" style="top:593px;font-size:11.6px;transform:scaleX(0.9569);transform-origin:100% 0;left:303.26px;width:300px;text-align:right;">34.80</span>
<span class="t" style="top:593px;font-size:11.6px;transform:scaleX(0.9569);transform-origin:100% 0;left:352.96px;width:300px;text-align:right;">2.5</span>
<span class="t" style="top:626px;font-size:11.6px;transform:scaleX(0.9172);transform-origin:50% 0;left:-69.89px;width:300px;text-align:center;">34-02-004-02</span>
<span class="t d" style="top:613px;font-size:11.3px;transform:scaleX(0.9912);transform-origin:0 0;left:116.20px;">комплектования и</span>
<span class="t d" style="top:626px;font-size:11.3px;transform:scaleX(0.9912);transform-origin:0 0;left:116.24px;">загибания резиновых и</span>
<span class="t d" style="top:639px;font-size:11.3px;transform:scaleX(0.9912);transform-origin:0 0;left:116.28px;">алюминиевых прокладок</span>
<span class="t" style="top:626px;font-size:11.6px;transform:scaleX(0.9569);transform-origin:100% 0;left:0.77px;width:300px;text-align:right;">609.63</span>
<span class="t" style="top:626px;font-size:11.6px;transform:scaleX(0.9569);transform-origin:100% 0;left:61.06px;width:300px;text-align:right;">344.98</span>
<span class="t" style="top:626px;font-size:11.6px;transform:scaleX(0.9569);transform-origin:100% 0;left:120.83px;width:300px;text-align:right;">258.53</span>
<span class="t" style="top:626px;font-size:11.6px;transform:scaleX(0.9569);transform-origin:100% 0;left:180.73px;width:300px;text-align:right;">18.95</span>
<span class="t" style="top:626px;font-size:11.6px;transform:scaleX(0.9569);transform-origin:100% 0;left:242.10px;width:300px;text-align:right;">6.12</span>
<span class="t" style="top:626px;font-size:11.6px;transform:scaleX(0.9569);transform-origin:100% 0;left:303.42px;width:300px;text-align:right;">23.50</span>
<span class="t" style="top:626px;font-size:11.6px;transform:scaleX(0.9569);transform-origin:100% 0;left:353.12px;width:300px;text-align:right;">1.4</span>
<span class="t" style="top:666px;font-size:11.6px;transform:scaleX(0.9172);transform-origin:50% 0;left:-69.74px;width:300px;text-align:center;">34-02-004-03</span>
<span class="t d" style="top:652px;font-size:11.3px;transform:scaleX(0.9912);transform-origin:0 0;left:116.27px;">стерилизации резиновых</span>
<span class="t d" style="top:666px;font-size:11.3px;transform:scaleX(0.9912);transform-origin:0 0;left:116.31px;">пробок со стеклянной</span>
<span class="t d" style="top:679px;font-size:11.3px;transform:scaleX(0.9912);transform-origin:0 0;left:116.35px;">трубкой</span>
<span class="t" style="top:666px;font-size:11.6px;transform:scaleX(0.9569);transform-origin:100% 0;left:0.80px;width:300px;text-align:right;">1 188.50</span>
<span class="t" style="top:666px;font-size:11.6px;transform:scaleX(0.9569);transform-origin:100% 0;left:61.03px;width:300px;text-align:right;">582.24</span>
<span class="t" style="top:666px;font-size:11.6px;transform:scaleX(0.9569);transform-origin:100% 0;left:120.80px;width:300px;text-align:right;">594.02</span>
<span class="t" style="top:666px;font-size:11.6px;transform:scaleX(0.9569);transform-origin:100% 0;left:180.78px;width:300px;text-align:right;">39.42</span>
<span class="t" style="top:666px;font-size:11.6px;transform:scaleX(0.9569);transform-origin:100% 0;left:242.09px;width:300px;text-align:right;">12.24</span>
<span class="t" style="top:666px;font-size:11.6px;transform:scaleX(0.9569);transform-origin:100% 0;left:303.61px;width:300px;text-align:right;">41.50</span>
<span class="t" style="top:666px;font-size:11.6px;transform:scaleX(0.9569);transform-origin:100% 0;left:353.32px;width:300px;text-align:right;">4.4</span>
<span class="t" style="top:705px;font-size:11.6px;transform:scaleX(0.9172);transform-origin:50% 0;left:-69.60px;width:300px;text-align:center;">34-02-004-04</span>
<span class="t d" style="top:692px;font-size:11.3px;transform:scaleX(0.9912);transform-origin:0 0;left:116.34px;">Агрегат для охлаждения</span>
<span class="t d" style="top:705px;font-size:11.3px;transform:scaleX(0.9912);transform-origin:0 0;left:116.38px;">воздуха к автоматической</span>
<span class="t d" style="top:719px;font-size:11.3px;transform:scaleX(0.9912);transform-origin:0 0;left:116.42px;">установке</span>
<span class="t" style="top:705px;font-size:11.6px;transform:scaleX(0.9569);transform-origin:100% 0;left:0.93px;width:300px;text-align:right;">1 544.70</span>
<span class="t" style="top:705px;font-size:11.6px;transform:scaleX(0.9569);transform-origin:100% 0;left:61.20px;width:300px;text-align:right;">330.30</span>
<span class="t" style="top:705px;font-size:11.6px;transform:scaleX(0.9569);transform-origin:100% 0;left:120.99px;width:300px;text-align:right;">261.21</span>
<span class="t" style="top:705px;font-size:11.6px;transform:scaleX(0.9569);transform-origin:100% 0;left:180.96px;width:300px;text-align:right;">16.35</span>
<span class="t" style="top:705px;font-size:11.6px;transform:scaleX(0.9569);transform-origin:100% 0;left:242.30px;width:300px;text-align:right;">953.19</span>
<span class="t" style="top:705px;font-size:11.6px;transform:scaleX(0.9569);transform-origin:100% 0;left:303.81px;width:300px;text-align:right;">22.50</span>
<span class="t" style="top:705px;font-size:11.6px;transform:scaleX(0.9569);transform-origin:100% 0;left:353.51px;width:300px;text-align:right;">1.9</span>
<span class="t" style="top:745px;font-size:11.6px;transform:scaleX(0.9172);transform-origin:50% 0;left:-69.45px;width:300px;text-align:center;">34-02-004-05</span>
<span class="t d" style="top:731px;font-size:11.3px;transform:scaleX(0.9912);transform-origin:0 0;left:116.41px;">Излучатель</span>
<span class="t d" style="top:745px;font-size:11.3px;transform:scaleX(0.9912);transform-origin:0 0;left:116.46px;">ультрафиолетовый для</span>
<span class="t d" style="top:758px;font-size:11.3px;transform:scaleX(0.9912);transform-origin:0 0;left:116.50px;">стерилизации помещения</span>
<span class="t" style="top:745px;font-size:11.6px;transform:scaleX(0.9569);transform-origin:100% 0;left:1.12px;width:300px;text-align:right;">250.39</span>
<span class="t" style="top:745px;font-size:11.6px;transform:scaleX(0.9569);transform-origin:100% 0;left:61.48px;width:300px;text-align:right;">214.33</span>
<span class="t" style="top:745px;font-size:11.6px;transform:scaleX(0.9569);transform-origin:100% 0;left:121.29px;width:300px;text-align:right;">34.22</span>
<span class="t" style="top:745px;font-size:11.6px;transform:scaleX(0.9569);transform-origin:100% 0;left:181.22px;width:300px;text-align:right;">2.14</span>
<span class="t" style="top:745px;font-size:11.6px;transform:scaleX(0.9569);transform-origin:100% 0;left:242.65px;width:300px;text-align:right;">1.84</span>
<span class="t" style="top:745px;font-size:11.6px;transform:scaleX(0.9569);transform-origin:100% 0;left:304.02px;width:300px;text-align:right;">14.60</span>
<span class="t" style="top:745px;font-size:11.6px;transform:scaleX(0.9569);transform-origin:100% 0;left:353.70px;width:300px;text-align:right;">0.15</span>
<span class="t b" style="top:778px;font-size:12.5px;transform:scaleX(0.977);transform-origin:0 0;left:111.98px;">Машина:</span>
<span class="t" style="top:800px;font-size:11.6px;transform:scaleX(0.9172);transform-origin:50% 0;left:-69.15px;width:300px;text-align:center;">34-02-004-06</span>
<span class="t d" style="top:793px;font-size:11.3px;transform:scaleX(0.9912);transform-origin:0 0;left:116.61px;">круглоглицевальная</span>
<span class="t d" style="top:807px;font-size:11.3px;transform:scaleX(0.9912);transform-origin:0 0;left:116.69px;">бесщеточная</span>
<span class="t" style="top:800px;font-size:11.6px;transform:scaleX(0.9569);transform-origin:100% 0;left:1.46px;width:300px;text-align:right;">745.82</span>
<span class="t" style="top:800px;font-size:11.6px;transform:scaleX(0.9569);transform-origin:100% 0;left:61.98px;width:300px;text-align:right;">362.60</span>
<span class="t" style="top:800px;font-size:11.6px;transform:scaleX(0.9569);transform-origin:100% 0;left:121.82px;width:300px;text-align:right;">334.26</span>
<span class="t" style="top:800px;font-size:11.6px;transform:scaleX(0.9569);transform-origin:100% 0;left:181.69px;width:300px;text-align:right;">20.93</span>
<span class="t" style="top:800px;font-size:11.6px;transform:scaleX(0.9569);transform-origin:100% 0;left:243.25px;width:300px;text-align:right;">48.96</span>
<span class="t" style="top:800px;font-size:11.6px;transform:scaleX(0.9569);transform-origin:100% 0;left:304.45px;width:300px;text-align:right;">24.70</span>
<span class="t" style="top:800px;font-size:11.6px;transform:scaleX(0.9569);transform-origin:100% 0;left:354.11px;width:300px;text-align:right;">2.5</span>
<span class="t" style="top:826px;font-size:11.6px;transform:scaleX(0.9172);transform-origin:50% 0;left:-68.98px;width:300px;text-align:center;">34-02-004-07</span>
<span class="t d" style="top:820px;font-size:11.3px;transform:scaleX(0.9912);transform-origin:0 0;left:116.72px;">полуавтоматическая для</span>
<span class="t d" style="top:833px;font-size:11.3px;transform:scaleX(0.9912);transform-origin:0 0;left:116.79px;">отвинчивания колпачков</span>
<span class="t" style="top:826px;font-size:11.6px;transform:scaleX(0.9569);transform-origin:100% 0;left:1.64px;width:300px;text-align:right;">234.70</span>
<span class="t" style="top:826px;font-size:11.6px;transform:scaleX(0.9569);transform-origin:100% 0;left:62.23px;width:300px;text-align:right;">198.18</span>
<span class="t" style="top:826px;font-size:11.6px;transform:scaleX(0.9569);transform-origin:100% 0;left:122.09px;width:300px;text-align:right;">34.22</span>
<span class="t" style="top:826px;font-size:11.6px;transform:scaleX(0.9569);transform-origin:100% 0;left:181.94px;width:300px;text-align:right;">2.14</span>
<span class="t" style="top:826px;font-size:11.6px;transform:scaleX(0.9569);transform-origin:100% 0;left:243.56px;width:300px;text-align:right;">2.30</span>
<span class="t" style="top:826px;font-size:11.6px;transform:scaleX(0.9569);transform-origin:100% 0;left:304.69px;width:300px;text-align:right;">13.50</span>
<span class="t" style="top:826px;font-size:11.6px;transform:scaleX(0.9569);transform-origin:100% 0;left:354.33px;width:300px;text-align:right;">0.2</span>
<span class="t" style="top:859px;font-size:11.6px;transform:scaleX(0.9172);transform-origin:50% 0;left:-68.78px;width:300px;text-align:center;">34-02-004-08</span>
<span class="t d" style="top:846px;font-size:11.3px;transform:scaleX(0.9912);transform-origin:0 0;left:116.82px;">для проставления печатей</span>
<span class="t d" style="top:859px;font-size:11.3px;transform:scaleX(0.9912);transform-origin:0 0;left:116.89px;">на колпачках-затворах</span>
<span class="t d" style="top:873px;font-size:11.3px;transform:scaleX(0.9912);transform-origin:0 0;left:116.97px;">бутылок</span>
<span class="t" style="top:859px;font-size:11.6px;transform:scaleX(0.9569);transform-origin:100% 0;left:1.87px;width:300px;text-align:right;">358.35</span>
<span class="t" style="top:859px;font-size:11.6px;transform:scaleX(0.9569);transform-origin:100% 0;left:62.55px;width:300px;text-align:right;">264.24</span>
<span class="t" style="top:859px;font-size:11.6px;transform:scaleX(0.9569);transform-origin:100% 0;left:122.43px;width:300px;text-align:right;">92.43</span>
<span class="t" style="top:859px;font-size:11.6px;transform:scaleX(0.9569);transform-origin:100% 0;left:182.25px;width:300px;text-align:right;">5.81</span>
<span class="t" style="top:859px;font-size:11.6px;transform:scaleX(0.9569);transform-origin:100% 0;left:243.95px;width:300px;text-align:right;">1.68</span>
<span class="t" style="top:859px;font-size:11.6px;transform:scaleX(0.9569);transform-origin:100% 0;left:304.98px;width:300px;text-align:right;">18.00</span>
<span class="t" style="top:859px;font-size:11.6px;transform:scaleX(0.9569);transform-origin:100% 0;left:354.61px;width:300px;text-align:right;">0.55</span>
<span class="t" style="top:892px;font-size:11.6px;transform:scaleX(0.9172);transform-origin:50% 0;left:-68.56px;width:300px;text-align:center;">34-02-004-09</span>
<span class="t d" style="top:885px;font-size:11.3px;transform:scaleX(0.9912);transform-origin:0 0;left:117.00px;">для обезжиривания</span>
<span class="t d" style="top:899px;font-size:11.3px;transform:scaleX(0.9912);transform-origin:0 0;left:117.08px;">колпачков</span>
<span class="t" style="top:892px;font-size:11.6px;transform:scaleX(0.9569);transform-origin:100% 0;left:2.10px;width:300px;text-align:right;">4 058.23</span>
<span class="t" style="top:892px;font-size:11.6px;transform:scaleX(0.9569);transform-origin:100% 0;left:62.88px;width:300px;text-align:right;">2 774.52</span>
<span class="t" style="top:892px;font-size:11.6px;transform:scaleX(0.9569);transform-origin:100% 0;left:122.77px;width:300px;text-align:right;">1 197.01</span>
<span class="t" style="top:892px;font-size:11.6px;transform:scaleX(0.9569);transform-origin:100% 0;left:182.57px;width:300px;text-align:right;">75.79</span>
<span class="t" style="top:892px;font-size:11.6px;transform:scaleX(0.9569);transform-origin:100% 0;left:244.35px;width:300px;text-align:right;">86.70</span>
<span class="t" style="top:892px;font-size:11.6px;transform:scaleX(0.9569);transform-origin:100% 0;left:305.29px;width:300px;text-align:right;">189.00</span>
<span class="t" style="top:891px;font-size:11.6px;transform:scaleX(0.9569);transform-origin:100% 0;left:354.90px;width:300px;text-align:right;">11.3</span>
<span class="t" style="top:912px;font-size:11.6px;transform:scaleX(0.9172);transform-origin:50% 0;left:-68.42px;width:300px;text-align:center;">34-02-004-10</span>
<span class="t d" style="top:912px;font-size:11.3px;transform:scaleX(0.9912);transform-origin:0 0;left:117.14px;">автоматическая моечная</span>
<span class="t" style="top:912px;font-size:11.6px;transform:scaleX(0.9569);transform-origin:100% 0;left:2.21px;width:300px;text-align:right;">1 187.91</span>
<span class="t" style="top:912px;font-size:11.6px;transform:scaleX(0.9569);transform-origin:100% 0;left:63.01px;width:300px;text-align:right;">641.92</span>
<span class="t" style="top:912px;font-size:11.6px;transform:scaleX(0.9569);transform-origin:100% 0;left:122.92px;width:300px;text-align:right;">526.87</span>
<span class="t" style="top:911px;font-size:11.6px;transform:scaleX(0.9569);transform-origin:100% 0;left:182.73px;width:300px;text-align:right;">40.19</span>
<span class="t" style="top:911px;font-size:11.6px;transform:scaleX(0.9569);transform-origin:100% 0;left:244.52px;width:300px;text-align:right;">19.12</span>
<span class="t" style="top:911px;font-size:11.6px;transform:scaleX(0.9569);transform-origin:100% 0;left:305.48px;width:300px;text-align:right;">47.20</span>
<span class="t" style="top:911px;font-size:11.6px;transform:scaleX(0.9569);transform-origin:100% 0;left:355.08px;width:300px;text-align:right;">3.8</span>
<span class="t" style="top:932px;font-size:11.6px;transform:scaleX(0.9172);transform-origin:50% 0;left:-68.28px;width:300px;text-align:center;">34-02-004-11</span>
<span class="t d" style="top:925px;font-size:11.3px;transform:scaleX(0.9912);transform-origin:0 0;left:117.19px;">для мойки пробок</span>
<span class="t d" style="top:938px;font-size:11.3px;transform:scaleX(0.9912);transform-origin:0 0;left:117.27px;">шприцеванием</span>
<span class="t" style="top:932px;font-size:11.6px;transform:scaleX(0.9569);transform-origin:100% 0;left:2.32px;width:300px;text-align:right;">310.55</span>
<span class="t" style="top:932px;font-size:11.6px;transform:scaleX(0.9569);transform-origin:100% 0;left:63.14px;width:300px;text-align:right;">230.48</span>
<span class="t" style="top:931px;font-size:11.6px;transform:scaleX(0.9569);transform-origin:100% 0;left:123.06px;width:300px;text-align:right;">73.34</span>
<span class="t" style="top:931px;font-size:11.6px;transform:scaleX(0.9569);transform-origin:100% 0;left:182.88px;width:300px;text-align:right;">5.04</span>
<span class="t" style="top:931px;font-size:11.6px;transform:scaleX(0.9569);transform-origin:100% 0;left:244.69px;width:300px;text-align:right;">6.73</span>
<span class="t" style="top:931px;font-size:11.6px;transform:scaleX(0.9569);transform-origin:100% 0;left:305.67px;width:300px;text-align:right;">15.70</span>
<span class="t" style="top:931px;font-size:11.6px;transform:scaleX(0.9569);transform-origin:100% 0;left:355.27px;width:300px;text-align:right;">0.45</span>
<span class="t" style="left:77.0px;top:980px;font-size:13px;transform:scaleX(0.88);transform-origin:0 0">24</span>
</div></div>
</body></html>
